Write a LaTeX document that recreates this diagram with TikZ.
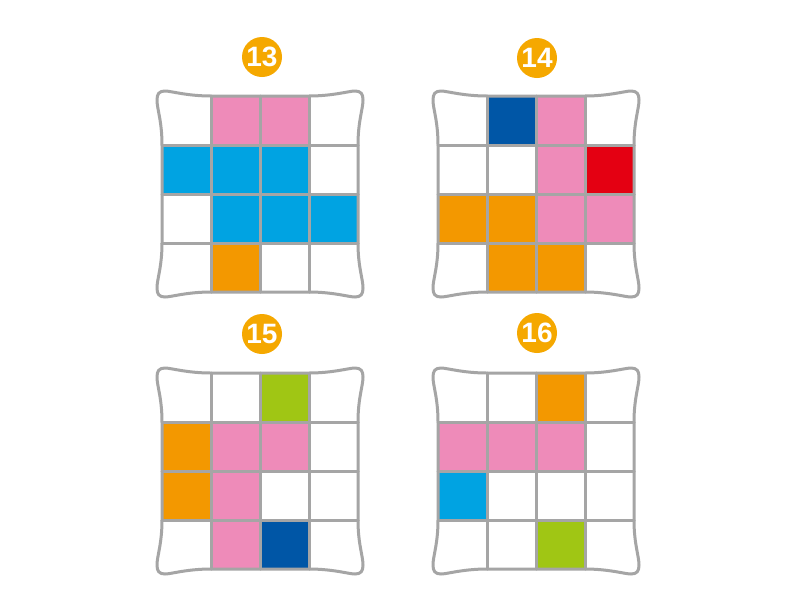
\documentclass[tikz,border=0pt]{standalone}
\usepackage{fontspec}
\setmainfont{Liberation Sans}
\definecolor{pk}{RGB}{238,139,185}
\definecolor{cy}{RGB}{0,163,226}
\definecolor{orn}{RGB}{243,152,0}
\definecolor{dbl}{RGB}{0,86,166}
\definecolor{rd}{RGB}{228,0,18}
\definecolor{gr}{RGB}{160,198,20}
\definecolor{gl}{RGB}{165,165,165}
\definecolor{badgec}{RGB}{245,168,0}
\tikzset{
  gridline/.style={draw=gl, line width=3pt, line join=round, line cap=round},
  badge/.style={circle, fill=badgec, minimum size=40pt, inner sep=0pt, text=white, font=\bfseries\fontsize{28}{28}\selectfont},
}
\newcommand\mycell[3]{\fill[#3] ({49*#1},{49*#2}) rectangle ++(49,49);}
\newcommand\pillowframe{%
  \draw[gridline] (49,0) -- (147,0)
    .. controls (171,0) and (187,-5) .. (193,-5)
    .. controls (199,-5) and (201,-2) .. (201,4)
    .. controls (201,13) and (196,25) .. (196,49)
    -- (196,147)
    .. controls (196,171) and (201,183) .. (201,192)
    .. controls (201,198) and (199,201) .. (193,201)
    .. controls (187,201) and (171,196) .. (147,196)
    -- (49,196)
    .. controls (25,196) and (9,201) .. (3,201)
    .. controls (-3,201) and (-5,198) .. (-5,192)
    .. controls (-5,183) and (0,171) .. (0,147)
    -- (0,49)
    .. controls (0,25) and (-5,13) .. (-5,4)
    .. controls (-5,-2) and (-3,-5) .. (3,-5)
    .. controls (9,-5) and (25,0) .. (49,0) -- cycle;
  \foreach \k in {49,98,147}{
    \draw[gridline] (\k,0) -- (\k,196);
    \draw[gridline] (0,\k) -- (196,\k);
  }%
}
\begin{document}
\begin{tikzpicture}[x=1pt,y=-1pt]
\useasboundingbox[fill=white] (0,0) rectangle (794,614);
% puzzle 13
\begin{scope}[shift={(162,96)}]
  \mycell{1}{0}{pk}\mycell{2}{0}{pk}
  \mycell{0}{1}{cy}\mycell{1}{1}{cy}\mycell{2}{1}{cy}
  \mycell{1}{2}{cy}\mycell{2}{2}{cy}\mycell{3}{2}{cy}
  \mycell{1}{3}{orn}
  \pillowframe
\end{scope}
% puzzle 14
\begin{scope}[shift={(438,96)}]
  \mycell{1}{0}{dbl}\mycell{2}{0}{pk}
  \mycell{2}{1}{pk}\mycell{3}{1}{rd}
  \mycell{0}{2}{orn}\mycell{1}{2}{orn}\mycell{2}{2}{pk}\mycell{3}{2}{pk}
  \mycell{1}{3}{orn}\mycell{2}{3}{orn}
  \pillowframe
\end{scope}
% puzzle 15
\begin{scope}[shift={(162,373)}]
  \mycell{2}{0}{gr}
  \mycell{0}{1}{orn}\mycell{1}{1}{pk}\mycell{2}{1}{pk}
  \mycell{0}{2}{orn}\mycell{1}{2}{pk}
  \mycell{1}{3}{pk}\mycell{2}{3}{dbl}
  \pillowframe
\end{scope}
% puzzle 16
\begin{scope}[shift={(438,373)}]
  \mycell{2}{0}{orn}
  \mycell{0}{1}{pk}\mycell{1}{1}{pk}\mycell{2}{1}{pk}
  \mycell{0}{2}{cy}
  \mycell{2}{3}{gr}
  \pillowframe
\end{scope}
\node[badge] (b13) at (262,57) {13};
\node[badge] (b14) at (537,58) {14};
\node[badge] (b15) at (262,334) {15};
\node[badge] (b16) at (537,333) {16};
\end{tikzpicture}
\end{document}
